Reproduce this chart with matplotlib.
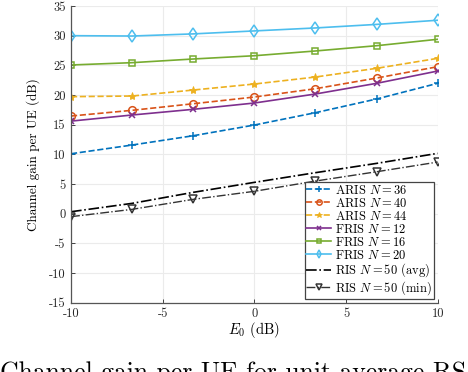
import matplotlib
matplotlib.use("Agg")
import matplotlib.pyplot as plt

plt.rcParams['font.family'] = ['cmr10', 'DejaVu Serif']
plt.rcParams['mathtext.fontset'] = 'cm'
plt.rcParams['axes.unicode_minus'] = False

x = [-10, -6.67, -3.33, 0, 3.33, 6.67, 10]
aris36 = [10.1, 11.57, 13.14, 14.94, 17.02, 19.33, 21.97]
aris40 = [16.46, 17.42, 18.53, 19.66, 21.06, 22.86, 24.77]
aris44 = [19.72, 19.83, 20.84, 21.85, 23.03, 24.5, 26.18]
fris12 = [15.6, 16.63, 17.59, 18.65, 20.17, 21.97, 24.04]
fris16 = [25.06, 25.45, 26.07, 26.62, 27.42, 28.31, 29.39]
fris20 = [30.0, 29.94, 30.3, 30.8, 31.3, 31.9, 32.6]
ris_avg = [0.33, 1.74, 3.6, 5.28, 6.91, 8.48, 10.17]
ris_min = [-0.5, 0.73, 2.42, 3.77, 5.5, 7.07, 8.7]

xticks = [-10, -5, 0, 5, 10]
yticks = [-15, -10, -5, 0, 5, 10, 15, 20, 25, 30, 35]

c_blue = '#0072BD'; c_orange = '#D95319'; c_yellow = '#EDB120'
c_purple = '#7E2F8E'; c_green = '#77AC30'; c_cyan = '#4DBEEE'

fig = plt.figure(figsize=(4.68, 3.72), dpi=100)
ax = fig.add_axes([71/468, 1 - 302.7/372, (437.7 - 71)/468, (302.7 - 6)/372])

lw = 1.2
ax.plot(x, aris36, '--', color=c_blue, lw=lw, marker='+', ms=6, mew=1.1, label=r'ARIS $N=36$')
ax.plot(x, aris40, '--', color=c_orange, lw=lw, marker='o', ms=5.5, mfc='none', mew=1.1, label=r'ARIS $N=40$')
ax.plot(x, aris44, '--', color=c_yellow, lw=lw, marker='*', ms=6, mew=0.6, label=r'ARIS $N=44$')
ax.plot(x, fris12, '-', color=c_purple, lw=lw, marker='x', ms=4.5, mew=1.1, label=r'FRIS $N=12$')
ax.plot(x, fris16, '-', color=c_green, lw=lw, marker='s', ms=4.5, mfc='none', mew=1.1, label=r'FRIS $N=16$')
ax.plot(x, fris20, '-', color=c_cyan, lw=lw, marker='d', ms=6, mfc='none', mew=1.1, label=r'FRIS $N=20$')
ax.plot(x, ris_avg, '-.', color='black', lw=lw, label=r'RIS $N=50$ (avg)')
ax.plot(x, ris_min, '-.', color='#333333', lw=1.0, marker='v', ms=5.5, mfc='none', mew=1.1, label=r'RIS $N=50$ (min)')

ax.set_xlim(-10, 10)
ax.set_ylim(-15, 35)
ax.set_xticks(xticks)
ax.set_xticklabels([str(v) for v in xticks])
ax.set_yticks(yticks)
ax.set_yticklabels([str(v) for v in yticks])
ax.grid(True, color='#ebebeb', lw=0.8)
ax.set_axisbelow(True)
for s in ['top', 'right']:
    ax.spines[s].set_visible(False)
for s in ['left', 'bottom']:
    ax.spines[s].set_color('#555555')
    ax.spines[s].set_linewidth(0.9)
ax.tick_params(direction='in', length=3, width=0.6, colors='#262626', labelsize=9, pad=4)

ax.set_xlabel(r'$E_0$ (dB)', fontsize=10.5, labelpad=0)
ax.set_ylabel('Channel gain per UE (dB)', fontsize=9.5, labelpad=6)

leg = ax.legend(loc='lower right', fontsize=9, frameon=True, fancybox=False,
                edgecolor='#444444', framealpha=1, handlelength=2.0, handletextpad=0.3,
                labelspacing=0.0, borderpad=0.15, borderaxespad=0.3, markerscale=0.7)
leg.get_frame().set_linewidth(0.9)

fig.text(0.0, 1 - 361.5/372, 'Channel gain per UE for unit average RS', fontsize=18.5,
         va='top', ha='left')

fig.savefig('out.png', dpi=100)
